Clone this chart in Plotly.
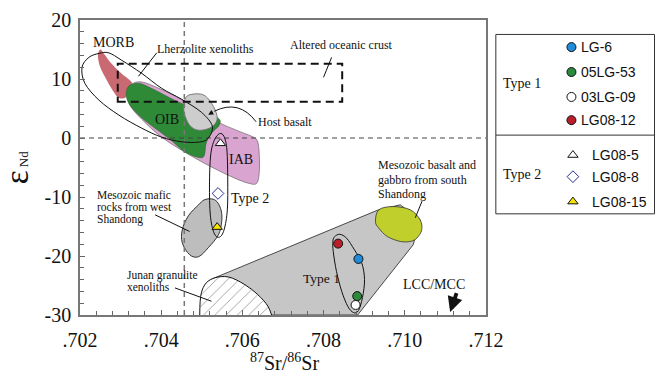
import plotly.graph_objects as go

# ---------------- axis ticks ----------------
SR_TICKS = [0.702, 0.704, 0.706, 0.708, 0.710, 0.712]
SR_TICK_TEXT = [".702", ".704", ".706", ".708", ".710", ".712"]
END_TICKS = [-30, -20, -10, 0, 10, 20]
END_TICK_TEXT = ["-30", "-20", "-10", "0", "10", "20"]

# ---------------- samples ----------------
SAMPLE_NAMES = ["LG-6", "05LG-53", "03LG-09", "LG08-12", "LG08-5", "LG08-8", "LG08-15"]
SAMPLE_TYPE = [1, 1, 1, 1, 2, 2, 2]
SAMPLE_SR = [0.70886, 0.70883, 0.70879, 0.70836, 0.70546, 0.70540, 0.70538]
SAMPLE_END = [-20.5, -26.8, -28.3, -17.9, -0.9, -9.4, -15.1]
SAMPLE_SYMBOL = ["circle", "circle", "circle", "circle", "triangle-up", "diamond", "triangle-up"]
SAMPLE_FILL = ["#1f8ddb", "#2b8a3b", "#ffffff", "#b81f2b", "#ffffff", "#ffffff", "#f7e400"]
SAMPLE_EDGE = ["#111111", "#111111", "#111111", "#111111", "#111111", "#2b2b9a", "#111111"]

# ---------------- reference fields (outline vertices) ----------------
MORB_SR = [0.70250, 0.70259, 0.70278, 0.70303, 0.70327, 0.70323, 0.70313, 0.70296, 0.70283, 0.70266, 0.70250, 0.70244]
MORB_END = [15.0, 14.3, 12.6, 10.9, 9.5, 8.65, 6.9, 6.8, 7.8, 9.8, 12.0, 14.0]

IAB_SR = [0.70327, 0.70352, 0.70394, 0.70450, 0.70499, 0.70541, 0.70585, 0.70622, 0.70636, 0.70641,
          0.70642, 0.70636, 0.70617, 0.70580, 0.70524, 0.70462, 0.70401, 0.70352, 0.70323, 0.70318]
IAB_END = [9.1, 9.5, 8.43, 6.57, 4.71, 2.69, 1.33, 0.32, -0.35, -2.04,
           -5.42, -7.62, -7.70, -6.77, -4.92, -2.55, 0.15, 3.19, 5.56, 7.75]

OIB_SR = [0.70315, 0.70323, 0.70345, 0.70376, 0.70433, 0.70462, 0.70499, 0.70541, 0.70543,
          0.70524, 0.70511, 0.70506, 0.70492, 0.70457, 0.70418, 0.70359, 0.70327, 0.70315]
OIB_END = [8.09, 8.94, 9.27, 8.43, 6.4, 5.56, 4.71, 3.36, 2.18,
           0.83, -0.86, -3.0, -3.3, -2.3, -0.02, 3.02, 5.22, 6.74]

HOST_SR = [0.70457, 0.70467, 0.70499, 0.70519, 0.70536, 0.70536, 0.70519, 0.70491, 0.70470, 0.70457]
HOST_END = [6.11, 7.25, 7.42, 6.4, 4.21, 2.74, 1.67, 1.33, 2.18, 4.21]

LHERZ_SR = [0.70205, 0.70222, 0.70247, 0.70271, 0.70303, 0.70352, 0.70401, 0.70450, 0.70499,
            0.70526, 0.70516, 0.70494, 0.70450, 0.70401, 0.70352, 0.70296, 0.70247, 0.70212]
LHERZ_END = [11.98, 13.67, 14.34, 14.43, 13.16, 10.96, 8.43, 6.57, 4.37,
             2.01, -0.02, -0.69, -0.64, 0.15, 1.67, 3.87, 6.4, 9.27]

TYPE2_SR = [0.70544, 0.70555, 0.70562, 0.70564, 0.70563, 0.70555, 0.70543, 0.70530, 0.70521, 0.70519, 0.70522, 0.70531]
TYPE2_END = [0.74, 0.24, -2.04, -7.11, -12.18, -15.56, -16.82, -16.06, -13.02, -7.96, -2.89, -0.35]

WEST_SR = [0.70524, 0.70538, 0.70548, 0.70549, 0.70541, 0.70516, 0.70492, 0.70470, 0.70452, 0.70452, 0.70467, 0.70492, 0.70506]
WEST_END = [-10.32, -10.83, -12.35, -14.2, -16.4, -18.6, -20.12, -19.78, -17.75, -15.56, -13.19, -11.33, -10.49]

JUNAN_SR = [0.70495, 0.70499, 0.70511, 0.70532, 0.70565, 0.70606, 0.70638, 0.70663, 0.70672]
JUNAN_END = [-30.0, -26.25, -24.56, -23.7, -23.55, -24.85, -26.54, -28.51, -30.0]

TYPE1_FIELD_SR = [0.70524, 0.70935, 0.70989, 0.71038, 0.71021, 0.70884, 0.70511]
TYPE1_FIELD_END = [-23.92, -12.18, -11.33, -13.87, -18.09, -30.0, -30.0]

SOUTH_SR = [0.70928, 0.70936, 0.70972, 0.71014, 0.71038, 0.71042, 0.71030, 0.71014, 0.70989, 0.70957, 0.70936]
SOUTH_END = [-14.16, -12.18, -11.62, -12.18, -13.87, -15.56, -16.96, -17.53, -17.53, -16.69, -15.27]

TYPE1_SR = [0.70827, 0.70840, 0.70857, 0.70876, 0.70894, 0.70901, 0.70896, 0.70886, 0.70874, 0.70860, 0.70845, 0.70832, 0.70824, 0.70823]
TYPE1_END = [-16.74, -16.32, -16.99, -18.94, -21.13, -24.0, -27.04, -29.24, -29.59, -28.56, -26.03, -22.65, -19.27, -17.58]

ALTERED_SR = [0.70293, 0.70846]
ALTERED_END = [6.15, 12.6]

BULK_EARTH_SR = 0.70457
BULK_EARTH_END = 0.0

SERIF = "Liberation Serif, Times New Roman, serif"
SANS = "Liberation Sans, Arial, sans-serif"

# layout geometry in target pixels; horizontal sizes are stretched by XK
L, T, W, H = 78, 19.5, 408, 296
FIG_W, FIG_H = 656, 375
XK = 672 / 656


def smooth_closed_path(xs, ys):
    """Closed Catmull-Rom curve through the vertices, written as cubic Beziers."""
    n = len(xs)
    pts = list(zip(xs, ys))
    d = "M {:.6f},{:.4f}".format(*pts[0])
    for i in range(n):
        p0, p1, p2, p3 = pts[(i - 1) % n], pts[i], pts[(i + 1) % n], pts[(i + 2) % n]
        c1 = (p1[0] + (p2[0] - p0[0]) / 6, p1[1] + (p2[1] - p0[1]) / 6)
        c2 = (p2[0] - (p3[0] - p1[0]) / 6, p2[1] - (p3[1] - p1[1]) / 6)
        d += " C {:.6f},{:.4f} {:.6f},{:.4f} {:.6f},{:.4f}".format(*c1, *c2, *p2)
    return d + " Z"


def polygon_path(xs, ys):
    d = "M " + " L ".join("{:.6f},{:.4f}".format(x, y) for x, y in zip(xs, ys))
    return d + " Z"


def field(path, fill, line_color="rgba(0,0,0,0)", line_width=0):
    return dict(type="path", path=path, xref="x", yref="y", layer="below",
                fillcolor=fill, line=dict(color=line_color, width=line_width))


def outline(path, color="#111111", width=1.0):
    return dict(type="path", path=path, xref="x", yref="y", layer="below",
                fillcolor="rgba(0,0,0,0)", line=dict(color=color, width=width))


def leader(x0, y0, x1, y1):
    return dict(type="line", x0=x0, y0=y0, x1=x1, y1=y1, xref="x", yref="y",
                layer="above", line=dict(color="#111111", width=1))


shapes = [
    field(polygon_path(TYPE1_FIELD_SR, TYPE1_FIELD_END), "#c6c6c6", "#222222", 0.8),
    field(smooth_closed_path(SOUTH_SR, SOUTH_END), "#c0cf2b", "#333333", 0.8),
    field(smooth_closed_path(MORB_SR, MORB_END), "#c96a72"),
    field(smooth_closed_path(IAB_SR, IAB_END), "#d9a4cf", "#555555", 0.6),
    field(smooth_closed_path(OIB_SR, OIB_END), "#2f8a37", "#22602a", 0.5),
    field(smooth_closed_path(HOST_SR, HOST_END), "#cdcdcd", "#6f6f6f", 0.9),
    field(smooth_closed_path(WEST_SR, WEST_END), "#bdbdbd", "#333333", 1.0),
    # bulk-earth reference lines
    dict(type="line", xref="x", yref="y", x0=BULK_EARTH_SR, x1=BULK_EARTH_SR, y0=-30, y1=20,
         layer="below", line=dict(color="#777777", width=1.5, dash="5px,4px")),
    dict(type="line", xref="x", yref="y", x0=0.702, x1=0.712, y0=BULK_EARTH_END, y1=BULK_EARTH_END,
         layer="below", line=dict(color="#444444", width=1.2, dash="5px,4px")),
    # altered oceanic crust box
    dict(type="rect", xref="x", yref="y", x0=ALTERED_SR[0], x1=ALTERED_SR[1],
         y0=ALTERED_END[0], y1=ALTERED_END[1], layer="below",
         line=dict(color="#111111", width=2, dash="8px,5px")),
    outline(smooth_closed_path(LHERZ_SR, LHERZ_END)),
    outline(smooth_closed_path(TYPE2_SR, TYPE2_END)),
    outline(smooth_closed_path(TYPE1_SR, TYPE1_END)),
    # leader lines
    leader(0.70389, 14.43, 0.70344, 10.46),
    leader(0.70820, 13.67, 0.70800, 10.29),
    leader(0.70385, -13.02, 0.70470, -15.84),
    leader(0.70434, -25.41, 0.70524, -27.67),
    leader(0.71043, -10.66, 0.71026, -13.53),
    dict(type="path", xref="x", yref="y", layer="above",
         path="M 0.70634,2.74 Q 0.70592,6.6 0.70531,4.54",
         line=dict(color="#111111", width=1)),
]

fig = go.Figure()

# Junan granulite xenoliths (hatched)
fig.add_trace(go.Scatter(
    x=JUNAN_SR, y=JUNAN_END, mode="lines", line=dict(color="#111111", width=1, shape="spline"),
    fill="toself", fillcolor="white",
    fillpattern=dict(shape="/", bgcolor="white", fgcolor="#222222", size=8, solidity=0.1),
    hoverinfo="skip", showlegend=False, xaxis="x", yaxis="y"))

# samples
for i in range(len(SAMPLE_NAMES)):
    fig.add_trace(go.Scatter(
        x=[SAMPLE_SR[i]], y=[SAMPLE_END[i]], mode="markers", name=SAMPLE_NAMES[i],
        marker=dict(symbol=SAMPLE_SYMBOL[i], size=9,
                    color=SAMPLE_FILL[i], line=dict(color=SAMPLE_EDGE[i], width=1)),
        showlegend=False, xaxis="x", yaxis="y"))

# legend panel (own pixel-scaled axes)
LEG_ROW_Y = [46.7, 71.7, 96.7, 120, 155, 176.7, 201.7]
LEG_MARK_X = {1: 572, 2: 573.5}
LEG_TEXT_X = {1: 580, 2: 591}
for i in range(len(SAMPLE_NAMES)):
    fig.add_trace(go.Scatter(
        x=[LEG_MARK_X[SAMPLE_TYPE[i]]], y=[LEG_ROW_Y[i]], mode="markers",
        marker=dict(symbol=SAMPLE_SYMBOL[i], size=9, color=SAMPLE_FILL[i],
                    line=dict(color=SAMPLE_EDGE[i], width=1)),
        showlegend=False, hoverinfo="skip", xaxis="x2", yaxis="y2"))

annotations = []


def label(text, x, y, size=12, xanchor="center", ref="x"):
    annotations.append(dict(text=text, x=x, y=y, xref=ref, yref=ref.replace("x", "y"),
                            showarrow=False, xanchor=xanchor, yanchor="middle", borderpad=0,
                            font=dict(family=SERIF, size=size, color="#111111")))


label("MORB", 0.70283, 16.25, 14)
label("Lherzolite xenoliths", 0.70508, 15.1, 12)
label("Altered oceanic crust", 0.70845, 15.7, 12)
label("OIB", 0.70415, 3.14, 14)
label("Host basalt", 0.70637, 2.74, 12, "left")
label("IAB", 0.70597, -3.6, 14)
label("Type 2", 0.70570, -10.2, 14, "left")
label("Mesozoic mafic", 0.70240, -9.65, 11.5, "left")
label("rocks from west", 0.70240, -11.62, 11.5, "left")
label("Shandong", 0.70240, -13.75, 11.5, "left")
label("Mesozoic basalt and", 0.70932, -4.58, 12, "left")
label("gabbro from south", 0.70932, -7.11, 12, "left")
label("Shandong", 0.70932, -9.48, 12, "left")
label("Junan granulite", 0.70313, -23.28, 11.5, "left")
label("xenoliths", 0.70313, -25.3, 11.5, "left")
label("Type 1", 0.70746, -23.88, 13.5, "left")
label("LCC/MCC", 0.71073, -24.85, 14)

# arrows
annotations.append(dict(x=0.70516, y=3.95, ax=0.70531, ay=4.54, xref="x", yref="y",
                        axref="x", ayref="y", text="", showarrow=True, arrowhead=2,
                        arrowsize=1, arrowwidth=1, arrowcolor="#111111"))
annotations.append(dict(x=0.71112, y=-29.5, ax=0.71129, ay=-26.03, xref="x", yref="y",
                        axref="x", ayref="y", text="", showarrow=True, arrowhead=2,
                        arrowsize=0.8, arrowwidth=3.8, arrowcolor="#111111"))

# legend texts
for i in range(len(SAMPLE_NAMES)):
    annotations.append(dict(text=SAMPLE_NAMES[i], x=LEG_TEXT_X[SAMPLE_TYPE[i]], y=LEG_ROW_Y[i],
                            xref="x2", yref="y2", showarrow=False, xanchor="left",
                            yanchor="middle", font=dict(family=SANS, size=14, color="#111111")))
label("Type 1", 522, 83.3, 14, ref="x2")
label("Type 2", 522, 175, 14, ref="x2")

# legend frame
shapes.append(dict(type="rect", xref="x2", yref="y2", x0=496, x1=655.5, y0=34, y1=214,
                   line=dict(color="#333333", width=1), layer="above"))
shapes.append(dict(type="line", xref="x2", yref="y2", x0=496, x1=655.5, y0=135, y1=135,
                   line=dict(color="#333333", width=1), layer="above"))


def px_to_paper_x(px):
    return (px - L) / (FIG_W - L)


def px_to_paper_y(py):
    return (T + H - py) / H


# axis titles
annotations.append(dict(text="<sup>87</sup>Sr/<sup>86</sup>Sr", x=px_to_paper_x(284),
                        y=px_to_paper_y(363), xref="paper", yref="paper", showarrow=False,
                        xanchor="center", yanchor="middle", borderpad=0,
                        font=dict(family=SERIF, size=20, color="#111111")))
annotations.append(dict(text="ε<span style='font-size:13px'> Nd</span>", x=px_to_paper_x(15),
                        y=px_to_paper_y(168), xref="paper", yref="paper", showarrow=False,
                        textangle=-90, xanchor="center", yanchor="middle",
                        font=dict(family=SERIF, size=33, color="#111111")))

axis_common = dict(showgrid=False, zeroline=False, showline=True, mirror=True,
                   linecolor="#777777", linewidth=1.5, ticks="inside", ticklen=5,
                   tickcolor="#666666", tickwidth=1,
                   tickfont=dict(family=SERIF, size=20, color="#111111"))

fig.update_layout(
    width=round(FIG_W * XK), height=FIG_H, autosize=False,
    margin=dict(l=L * XK, r=0, t=T, b=FIG_H - T - H, pad=0),
    paper_bgcolor="white", plot_bgcolor="rgba(0,0,0,0)",
    showlegend=False,
    xaxis=dict(domain=[0, W / (FIG_W - L)], range=[0.702, 0.712], tickvals=SR_TICKS,
               ticktext=SR_TICK_TEXT, ticklabelstandoff=6,
               minor=dict(tick0=0.702, dtick=0.0004, ticks="inside", ticklen=4,
                          tickcolor="#666666"),
               **axis_common),
    yaxis=dict(domain=[0, 1], range=[-30, 20], tickvals=END_TICKS, ticktext=END_TICK_TEXT,
               ticklabelstandoff=3,
               minor=dict(tick0=-30, dtick=2, ticks="inside", ticklen=4, tickcolor="#666666"),
               **axis_common),
    xaxis2=dict(domain=[0, 1], range=[L, FIG_W], visible=False, anchor="y2"),
    yaxis2=dict(domain=[0, 1], range=[T + H, T], visible=False, anchor="x2"),
    shapes=shapes,
    annotations=annotations,
)

fig.write_html("out.html")
